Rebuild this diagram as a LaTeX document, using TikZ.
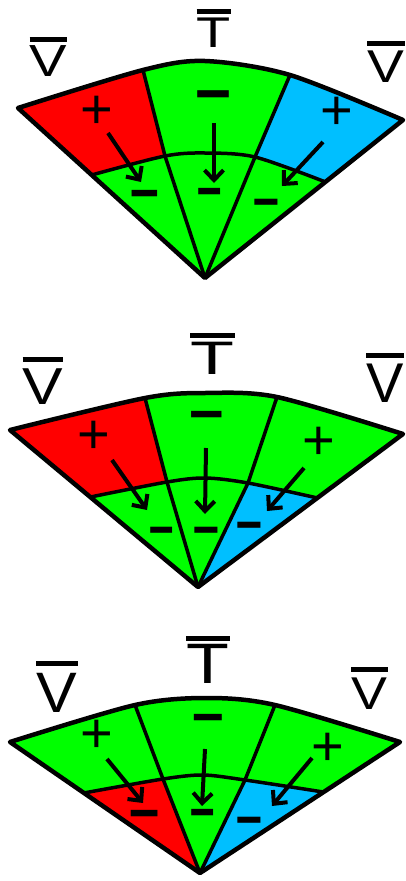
\documentclass[tikz,border=0pt]{standalone}
\usepackage{fontspec}
\setmainfont{Liberation Sans}
\usepackage{graphicx}
\usetikzlibrary{calc,arrows.meta}
\definecolor{fred}{RGB}{255,0,0}
\definecolor{fgreen}{RGB}{0,255,0}
\definecolor{fblue}{RGB}{0,191,255}
\newcommand\pl{\raisebox{-0.35em}{+}}
\newcommand\mi[2]{\scalebox{#1}[#2]{\raisebox{-0.34em}{−}}}
\newcommand\drawfan[7]{%
\begin{scope}
 \clip (#1A) -- plot[smooth] coordinates {(#1OL) (#1DLo) (#1OT) (#1DRo) (#1OR)} -- cycle;
 \fill[#3] ($(#1A)+(-400,20)$) rectangle ($(#1A)+(400,-400)$);
 \fill[#2] (#1A) -- (#1DLi) -- (#1DLo) -- ($(#1DLi)!1.6!(#1DLo)$) -- ++(-400,0) -- ($(#1A)+(-400,0)$) -- cycle;
 \fill[#4] (#1A) -- (#1DRi) -- (#1DRo) -- ($(#1DRi)!1.6!(#1DRo)$) -- ++(400,0) -- ($(#1A)+(400,0)$) -- cycle;
 \begin{scope}
  \clip ($(#1IL)+(-30,0)$) -- plot[smooth] coordinates {(#1IL) (#1DLi) (#1IM) (#1DRi) (#1IR)} -- ($(#1IR)+(30,0)$) -- ($(#1IR)+(30,300)$) -- ($(#1IL)+(-30,300)$) -- cycle;
  \fill[#6] ($(#1A)+(-400,20)$) rectangle ($(#1A)+(400,-400)$);
  \fill[#5] (#1A) -- (#1DLi) -- (#1DLo) -- ($(#1DLi)!1.6!(#1DLo)$) -- ++(-400,0) -- ($(#1A)+(-400,0)$) -- cycle;
  \fill[#7] (#1A) -- (#1DRi) -- (#1DRo) -- ($(#1DRi)!1.6!(#1DRo)$) -- ++(400,0) -- ($(#1A)+(400,0)$) -- cycle;
 \end{scope}
 \draw[fanline] (#1A) -- (#1DLi) -- (#1DLo) -- ($(#1DLi)!1.3!(#1DLo)$);
 \draw[fanline] (#1A) -- (#1DRi) -- (#1DRo) -- ($(#1DRi)!1.3!(#1DRo)$);
 \draw[fanline] plot[smooth] coordinates {(#1IL) (#1DLi) (#1IM) (#1DRi) (#1IR)};
\end{scope}
\draw[fanedge] (#1A) -- plot[smooth] coordinates {(#1OL) (#1DLo) (#1OT) (#1DRo) (#1OR)} -- cycle;
}
\begin{document}
\begin{tikzpicture}[x=1pt,y=-1pt,
  fanline/.style={line width=3.5pt,line join=round},
  fanedge/.style={line width=4.5pt,line join=round},
  arr/.style={line width=4pt,-{Straight Barb[length=10pt,width=19pt]}},
  plussign/.style={anchor=base,inner sep=0pt,font=\fontsize{56}{56}\selectfont},
  minussign/.style={anchor=base,inner sep=0pt,font=\fontsize{50}{50}\selectfont},
  lab/.style={inner sep=0pt,anchor=center},
  overbar/.style={line width=5pt}]
\fill[white] (0,0) rectangle (405,881);
\useasboundingbox (0,0) rectangle (405,881);
% ---------- fan 1
\coordinate (f1A) at (205,278);
\coordinate (f1OL) at (18,108);
\coordinate (f1DLo) at (143,70);
\coordinate (f1OT) at (205,61);
\coordinate (f1DRo) at (290,75);
\coordinate (f1OR) at (403,120);
\coordinate (f1DLi) at (165,156);
\coordinate (f1IM) at (205,153);
\coordinate (f1DRi) at (255,157);
\coordinate (f1IL) at ($(f1A)!0.606!(f1OL)$);
\coordinate (f1IR) at ($(f1A)!0.608!(f1OR)$);
\drawfan{f1}{fred}{fgreen}{fblue}{fgreen}{fgreen}{fgreen}
% ---------- fan 2
\coordinate (f2A) at (198,587);
\coordinate (f2OL) at (10,430);
\coordinate (f2DLo) at (145,398);
\coordinate (f2OT) at (205,393);
\coordinate (f2DRo) at (277,397);
\coordinate (f2OR) at (403,434);
\coordinate (f2DLi) at (167,482);
\coordinate (f2IM) at (205,478);
\coordinate (f2DRi) at (248,483);
\coordinate (f2IL) at ($(f2A)!0.573!(f2OL)$);
\coordinate (f2IR) at ($(f2A)!0.582!(f2OR)$);
\drawfan{f2}{fred}{fgreen}{fgreen}{fgreen}{fgreen}{fblue}
% ---------- fan 3
\coordinate (f3A) at (200,873);
\coordinate (f3OL) at (10,742);
\coordinate (f3DLo) at (135,705);
\coordinate (f3OT) at (207,698);
\coordinate (f3DRo) at (275,705);
\coordinate (f3OR) at (400,742);
\coordinate (f3DLi) at (163,779);
\coordinate (f3IM) at (203,775);
\coordinate (f3DRi) at (245,780);
\coordinate (f3IL) at ($(f3A)!0.611!(f3OL)$);
\coordinate (f3IR) at ($(f3A)!0.618!(f3OR)$);
\drawfan{f3}{fgreen}{fgreen}{fgreen}{fred}{fgreen}{fblue}
% ---------- arrows
\coordinate (f1aLs) at (108,133); \coordinate (f1aLe) at (141,182);
\coordinate (f1aMs) at (214,123); \coordinate (f1aMe) at (214,183);
\coordinate (f1aRs) at (323,142); \coordinate (f1aRe) at (282,186);
\coordinate (f2aLs) at (112,460); \coordinate (f2aLe) at (147,510);
\coordinate (f2aMs) at (206,448); \coordinate (f2aMe) at (205,514);
\coordinate (f2aRs) at (304,468); \coordinate (f2aRe) at (267,511);
\coordinate (f3aLs) at (107,759); \coordinate (f3aLe) at (143,803);
\coordinate (f3aMs) at (205,749); \coordinate (f3aMe) at (202,806);
\coordinate (f3aRs) at (312,758); \coordinate (f3aRe) at (272,806);
\foreach \f in {f1,f2,f3}{
  \draw[arr] (\f aLs) -- (\f aLe);
  \draw[arr] (\f aMs) -- (\f aMe);
  \draw[arr] (\f aRs) -- (\f aRe);
}
% ---------- signs
\node[plussign] (f1pL) at (97,109) {\pl};
\node[minussign] (f1mT) at (213,93) {\mi{1.3}{2}};
\node[plussign] (f1pR) at (337,110) {\pl};
\node[minussign] (f1mL) at (145,193) {\mi{1.05}{1.8}};
\node[minussign] (f1mM) at (210,191) {\mi{0.9}{1.8}};
\node[minussign] (f1mR) at (266,202) {\mi{0.95}{1.7}};
\node[plussign] (f2pL) at (94,434) {\pl};
\node[minussign] (f2mT) at (207,414) {\mi{1.25}{1.8}};
\node[plussign] (f2pR) at (319,440) {\pl};
\node[minussign] (f2mL) at (162,530) {\mi{0.9}{1.7}};
\node[minussign] (f2mM) at (206,530) {\mi{0.95}{1.7}};
\node[minussign] (f2mR) at (249,525) {\mi{0.95}{1.7}};
\node[plussign] (f3pL) at (97,733) {\pl};
\node[minussign] (f3mT) at (208,717) {\mi{1.15}{1.8}};
\node[plussign] (f3pR) at (328,746) {\pl};
\node[minussign] (f3mL) at (145,813) {\mi{1.1}{1.8}};
\node[minussign] (f3mM) at (203,812) {\mi{0.9}{1.8}};
\node[minussign] (f3mR) at (249,820) {\mi{0.95}{1.7}};
% ---------- labels
\node[lab,font=\fontsize{45}{45}\selectfont] (f1vL) at (48.5,61) {\scalebox{1.25}[1]{V}};
\node[lab,font=\fontsize{46}{46}\selectfont] (f1vR) at (386,66.5) {\scalebox{1.2}[1]{V}};
\node[lab,font=\fontsize{43}{43}\selectfont] (f1t) at (214,32.5) {\scalebox{1.3}[1]{T}};
\draw[overbar] ([yshift=5.5pt]f1vL.north west) -- ([yshift=5.5pt]f1vL.north east);
\draw[overbar] ([yshift=6.5pt]f1vR.north west) -- ([yshift=6.5pt]f1vR.north east);
\draw[overbar] ([yshift=6pt]f1t.north west) -- ([yshift=6pt]f1t.north east);
\node[lab,font=\fontsize{52}{52}\selectfont] (f2vL) at (43,386.5) {\scalebox{1.17}[1]{V}};
\node[lab,font=\fontsize{56}{56}\selectfont] (f2vR) at (385,383) {V};
\node[lab,font=\fontsize{47}{47}\selectfont] (f2t) at (212.5,358) {\scalebox{1.53}[1]{T}};
\draw[overbar] ([yshift=8.5pt]f2vL.north west) -- ([yshift=8.5pt]f2vL.north east);
\draw[overbar] ([yshift=8pt]f2vR.north west) -- ([yshift=8pt]f2vR.north east);
\draw[overbar] ([yshift=6.2pt]f2t.north west) -- ([yshift=6.2pt]f2t.north east);
\node[lab,font=\fontsize{57}{57}\selectfont] (f3vL) at (57,692.5) {\scalebox{1.07}[1]{V}};
\node[lab,font=\fontsize{46}{46}\selectfont] (f3vR) at (369.5,693.5) {\scalebox{1.17}[1]{V}};
\node[lab,font=\fontsize{57}{57}\selectfont] (f3t) at (208,663.5) {\scalebox{1.23}[1]{T}};
\draw[overbar] ([yshift=9.5pt]f3vL.north west) -- ([yshift=9.5pt]f3vL.north east);
\draw[overbar] ([yshift=8pt]f3vR.north west) -- ([yshift=8pt]f3vR.north east);
\draw[overbar] ([yshift=5.5pt]f3t.north west) -- ([yshift=5.5pt]f3t.north east);
\end{tikzpicture}
\end{document}
